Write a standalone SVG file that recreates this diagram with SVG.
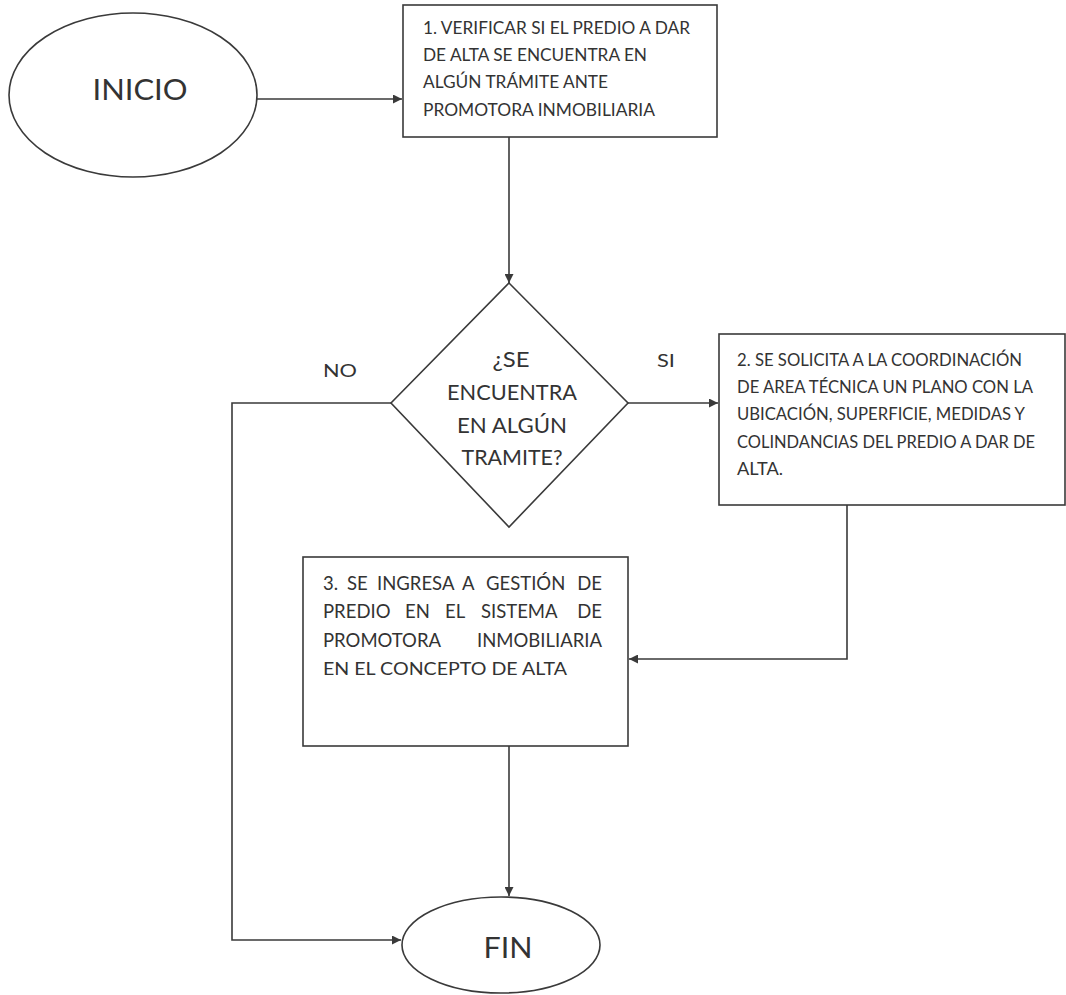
<svg xmlns="http://www.w3.org/2000/svg" width="1066" height="995" viewBox="0 0 1066 995">
<defs>
<style>
.shape{fill:#fff;stroke:#3a3a3a;stroke-width:1.6}
.conn{fill:none;stroke:#3a3a3a;stroke-width:1.6}
.t{font-family:Lato,"Liberation Sans",Arial,sans-serif;fill:#333;}
.box{font-size:18px}
.w{font-size:18.5px}
.end{text-anchor:end}
.dia{font-size:22px;text-anchor:middle}
.lbl{font-size:18px}
.term{font-size:29px;text-anchor:middle}
</style>
<marker id="ah" viewBox="0 0 10 10" refX="10" refY="5" markerWidth="11" markerHeight="9" markerUnits="userSpaceOnUse" orient="auto">
<path d="M0,0 L10,5 L0,10 z" fill="#3a3a3a"/>
</marker>
</defs>
<rect width="1066" height="995" fill="#fff"/>
<g id="connectors">
<line class="conn" x1="257" y1="99" x2="402" y2="99" marker-end="url(#ah)"/>
<line class="conn" x1="509" y1="137" x2="509" y2="283" marker-end="url(#ah)"/>
<line class="conn" x1="628" y1="403" x2="718" y2="403" marker-end="url(#ah)"/>
<polyline class="conn" points="847,505 847,659 629,659" marker-end="url(#ah)"/>
<polyline class="conn" points="391,403 232,403 232,940 401,940" marker-end="url(#ah)"/>
<line class="conn" x1="509" y1="746" x2="509" y2="896" marker-end="url(#ah)"/>
<text class="t lbl" x="323" y="377" textLength="34" lengthAdjust="spacingAndGlyphs">NO</text>
<text class="t lbl" x="657" y="367" textLength="18" lengthAdjust="spacingAndGlyphs">SI</text>
</g>
<g id="inicio">
<ellipse class="shape" cx="133" cy="95" rx="124" ry="82"/>
<text class="t term" x="140" y="100" textLength="95" lengthAdjust="spacingAndGlyphs">INICIO</text>
</g>
<g id="paso1">
<rect class="shape" x="403" y="5" width="314" height="132"/>
<text class="t box" x="423" y="34" textLength="267" lengthAdjust="spacingAndGlyphs">1. VERIFICAR SI EL PREDIO A DAR</text>
<text class="t box" x="423" y="61" textLength="224" lengthAdjust="spacingAndGlyphs">DE ALTA SE ENCUENTRA EN</text>
<text class="t box" x="423" y="88" textLength="185" lengthAdjust="spacingAndGlyphs">ALGÚN TRÁMITE ANTE</text>
<text class="t box" x="423" y="116" textLength="232" lengthAdjust="spacingAndGlyphs">PROMOTORA INMOBILIARIA</text>
</g>
<g id="decision">
<polygon class="shape" points="509,283 628,403 509,527 391,403"/>
<text class="t dia" x="511" y="367" textLength="37" lengthAdjust="spacingAndGlyphs">¿SE</text>
<text class="t dia" x="512" y="400" textLength="130" lengthAdjust="spacingAndGlyphs">ENCUENTRA</text>
<text class="t dia" x="512" y="433" textLength="110" lengthAdjust="spacingAndGlyphs">EN ALGÚN</text>
<text class="t dia" x="512" y="465" textLength="101" lengthAdjust="spacingAndGlyphs">TRAMITE?</text>
</g>
<g id="paso2">
<rect class="shape" x="719" y="334" width="346" height="171"/>
<text class="t box" x="737" y="366" textLength="285" lengthAdjust="spacingAndGlyphs">2. SE SOLICITA A LA COORDINACIÓN</text>
<text class="t box" x="737" y="393" textLength="296" lengthAdjust="spacingAndGlyphs">DE AREA TÉCNICA UN PLANO CON LA</text>
<text class="t box" x="737" y="420" textLength="288" lengthAdjust="spacingAndGlyphs">UBICACIÓN, SUPERFICIE, MEDIDAS Y</text>
<text class="t box" x="737" y="448" textLength="298" lengthAdjust="spacingAndGlyphs">COLINDANCIAS DEL PREDIO A DAR DE</text>
<text class="t box" x="737" y="475" textLength="46" lengthAdjust="spacingAndGlyphs">ALTA.</text>
</g>
<g id="paso3">
<rect class="shape" x="303" y="557" width="325" height="189"/>
<text class="t w" x="323" y="590">3.</text>
<text class="t w" x="347" y="590">SE</text>
<text class="t w" x="377" y="590">INGRESA</text>
<text class="t w" x="462" y="590">A</text>
<text class="t w" x="486" y="590">GESTIÓN</text>
<text class="t w end" x="602" y="590">DE</text>
<text class="t w" x="323" y="618">PREDIO</text>
<text class="t w" x="405" y="618">EN</text>
<text class="t w" x="445" y="618">EL</text>
<text class="t w" x="481" y="618">SISTEMA</text>
<text class="t w end" x="602" y="618">DE</text>
<text class="t w" x="323" y="647">PROMOTORA</text>
<text class="t w end" x="602" y="647">INMOBILIARIA</text>
<text class="t box" x="323" y="675" textLength="244" lengthAdjust="spacingAndGlyphs">EN EL CONCEPTO DE ALTA</text>
</g>
<g id="fin">
<ellipse class="shape" cx="501" cy="945" rx="99" ry="48"/>
<text class="t term" x="508" y="958" textLength="49" lengthAdjust="spacingAndGlyphs">FIN</text>
</g>
</svg>
